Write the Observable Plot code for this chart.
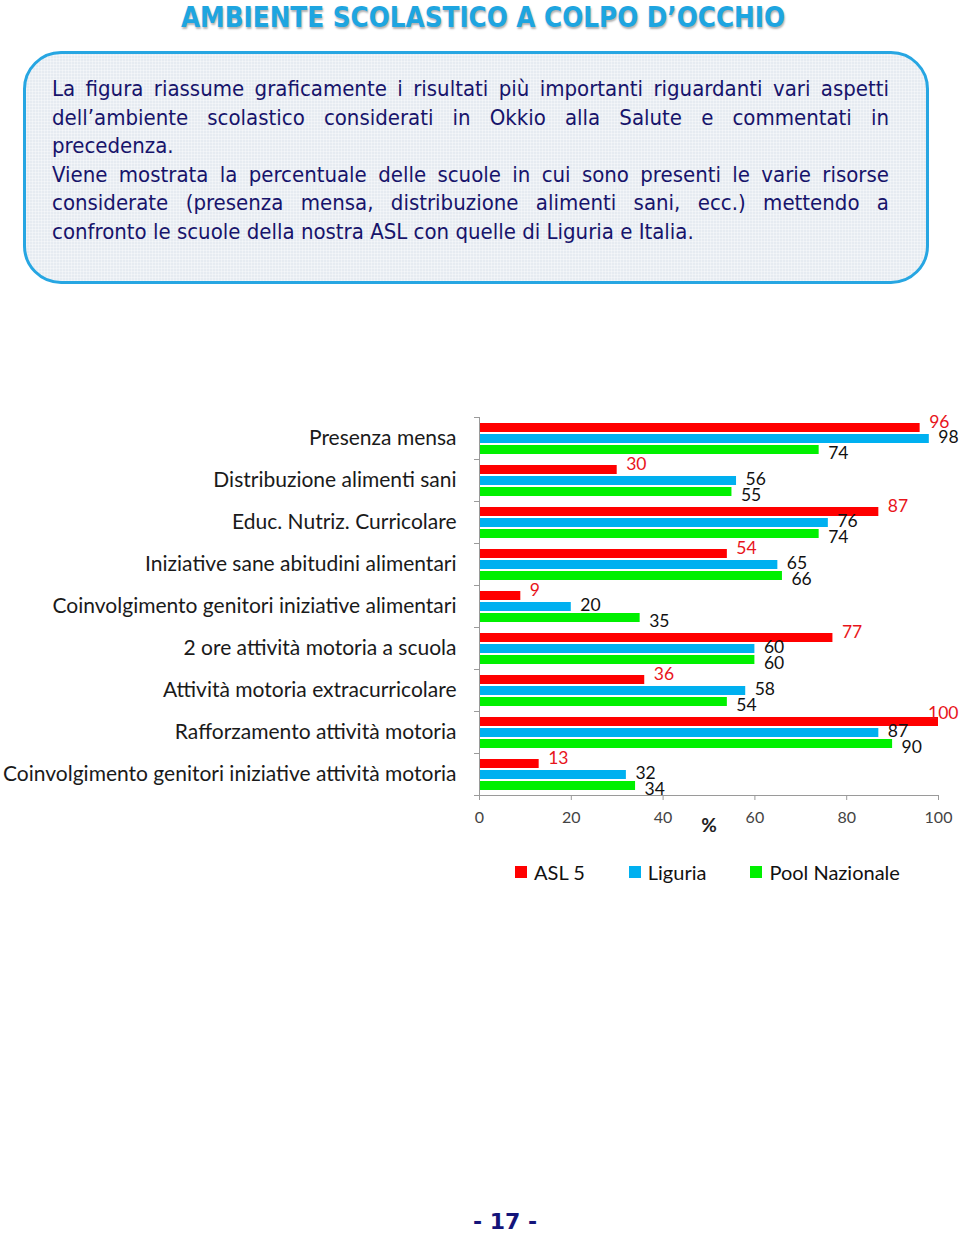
<!DOCTYPE html>
<html><head><meta charset="utf-8">
<script src="https://cdn.jsdelivr.net/npm/d3@7"></script>
<script src="https://cdn.jsdelivr.net/npm/@observablehq/plot@0.6"></script>
<style>
body{margin:0;background:#fff;width:960px;height:1233px;position:relative;overflow:hidden;}
#title{position:absolute;top:1px;left:0;width:966px;text-align:center;font-family:"DejaVu Sans Condensed","DejaVu Sans";font-weight:bold;font-size:27.5px;color:#1ea5e0;text-shadow:1px 2px 2px rgba(0,0,0,.3);white-space:nowrap;}
#box{position:absolute;left:23px;top:51px;width:906px;height:233px;box-sizing:border-box;border:3px solid #27a6e2;border-radius:38px;
background-color:#e6ebf1;background-image:repeating-linear-gradient(0deg,rgba(255,255,255,.35) 0 1px,transparent 1px 3px),repeating-linear-gradient(90deg,rgba(255,255,255,.35) 0 1px,transparent 1px 3px);
padding:21px 37px 0 26px;}
#box div{font-family:"DejaVu Sans Condensed","DejaVu Sans";font-size:22px;line-height:28.6px;height:28.6px;color:#17146b;white-space:nowrap;}
#box div.j{text-align:justify;text-align-last:justify;}
#chart{position:absolute;left:0;top:400px;}
#legend{position:absolute;left:515px;top:860px;display:flex;align-items:center;font-family:Lato;font-size:20px;color:#111;}
#legend .item{display:flex;align-items:center;margin-right:44px;}
#legend .sw{width:12px;height:12px;margin-right:7px;}
#page{position:absolute;top:1211px;left:445px;width:120px;height:22px;line-height:22px;text-align:center;font-family:"DejaVu Sans";font-weight:bold;font-size:22px;color:#14147a;}
</style>
</head><body>
<div id="title">AMBIENTE SCOLASTICO A COLPO D’OCCHIO</div>
<div id="box">
<div class="j">La figura riassume graficamente i risultati più importanti riguardanti vari aspetti</div>
<div class="j">dell’ambiente scolastico considerati in Okkio alla Salute e commentati in</div>
<div>precedenza.</div>
<div class="j">Viene mostrata la percentuale delle scuole in cui sono presenti le varie risorse</div>
<div class="j">considerate (presenza mensa, distribuzione alimenti sani, ecc.) mettendo a</div>
<div>confronto le scuole della nostra ASL con quelle di Liguria e Italia.</div>
</div>
<div id="chart"></div>
<div id="legend"></div>
<div id="page">- 17 -</div>
<script>
const categories = [
  "Presenza mensa",
  "Distribuzione alimenti sani",
  "Educ. Nutriz. Curricolare",
  "Iniziative sane abitudini alimentari",
  "Coinvolgimento genitori iniziative alimentari",
  "2 ore attività motoria a scuola",
  "Attività motoria extracurricolare",
  "Rafforzamento attività motoria",
  "Coinvolgimento genitori iniziative attività motoria"
];
const series = ["ASL 5", "Liguria", "Pool Nazionale"];
const asl5 = [96, 30, 87, 54, 9, 77, 36, 100, 13];
const liguria = [98, 56, 76, 65, 20, 60, 58, 87, 32];
const poolNazionale = [74, 55, 74, 66, 35, 60, 54, 90, 34];
const colors = ["#ff0000", "#00b0f0", "#00f000"];
const xTicks = [0, 20, 40, 60, 80, 100];

const seriesValues = [asl5, liguria, poolNazionale];
const data = categories.flatMap((c, i) => series.map((s, j) => ({category: c, series: s, value: seriesValues[j][i]})));

const labelFill = ["#e8141b", "#111", "#111"];
const labelDy = [-6, -2, 3];
const font = "Lato";
const full = d => d.value >= 99;

const chart = Plot.plot({
  width: 960,
  height: 440,
  marginLeft: 479,
  marginRight: 22,
  marginTop: 17,
  marginBottom: 45,
  style: {fontFamily: font, background: "transparent", overflow: "visible"},
  x: {domain: [0, 100]},
  y: {domain: series, paddingInner: 0.19, paddingOuter: 0.38, axis: null},
  fy: {domain: categories, padding: 0},
  color: {domain: series, range: colors},
  marks: [
    Plot.barX(data, {fy: "category", y: "series", x: "value", fill: "series"}),
    ...series.map((s, j) => Plot.text(data.filter(d => d.series === s && !full(d)), {
      fy: "category", y: "series", x: "value", text: d => String(d.value),
      textAnchor: "start", dx: 9, dy: labelDy[j], fill: labelFill[j], fontSize: 17.5
    })),
    ...series.map((s, j) => Plot.text(data.filter(d => d.series === s && full(d)), {
      fy: "category", y: "series", x: "value", text: d => String(d.value),
      textAnchor: "end", dx: 20, dy: -9, fill: labelFill[j], fontSize: 17.5
    })),
    Plot.ruleX([0], {stroke: "#9a9a9a"}),
    Plot.frame({anchor: "top", stroke: "#9a9a9a", insetLeft: -5, insetRight: 459}),
    Plot.frame({anchor: "bottom", fy: [categories[categories.length - 1]], stroke: "#9a9a9a", insetLeft: -5}),
    Plot.axisX({ticks: xTicks, tickSize: 5, tickPadding: 11, fontSize: 16, stroke: "#9a9a9a", color: "#444", label: null}),
    Plot.axisX({ticks: [], tickSize: 0, fontSize: 19, fontWeight: "bold", color: "#222", label: "%", labelAnchor: "center", labelArrow: "none", labelOffset: 36}),
    Plot.axisFy({anchor: "left", tickSize: 0, tickPadding: 23, fontSize: 21, label: null, color: "#1a1a1a"})
  ]
});
document.getElementById("chart").appendChild(chart);

const legend = document.getElementById("legend");
series.forEach((s, j) => {
  const item = document.createElement("div");
  item.className = "item";
  const sw = document.createElement("span");
  sw.className = "sw";
  sw.style.background = colors[j];
  const t = document.createElement("span");
  t.textContent = s;
  item.appendChild(sw); item.appendChild(t);
  legend.appendChild(item);
});
</script>
</body></html>
